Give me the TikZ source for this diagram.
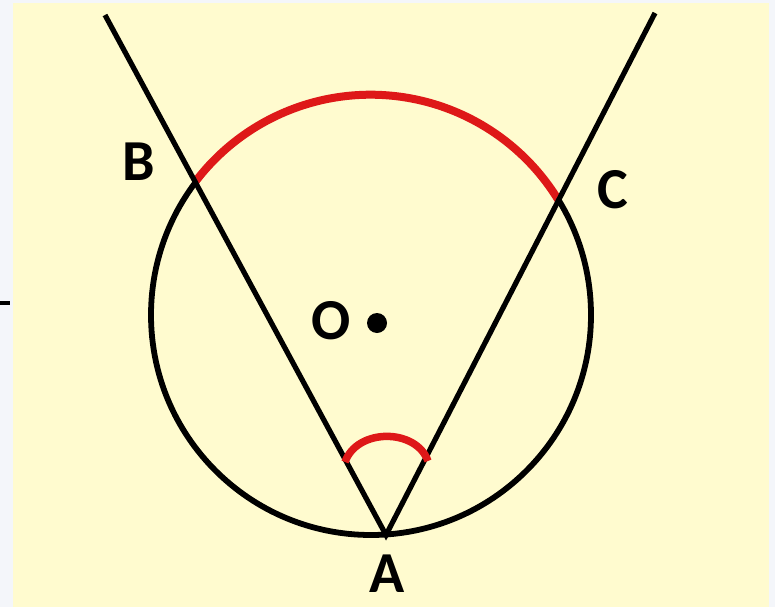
\documentclass[tikz,border=0pt]{standalone}
\usepackage{fontspec}
\setmainfont{Carlito}
\definecolor{bgyellow}{RGB}{255,251,207}
\definecolor{stripcol}{RGB}{244,246,250}
\definecolor{arcred}{RGB}{222,24,24}
\begin{document}
\begin{tikzpicture}[x=1pt,y=-1pt,
  blackline/.style={line width=5.2pt,black},
  circleline/.style={line width=5.8pt,black},
  redarc/.style={line width=8pt,arcred},
  lbl/.style={font=\fontsize{58}{58}\selectfont\bfseries,inner sep=0pt}]
\useasboundingbox (0,0) rectangle (775,607);
\fill[stripcol] (0,0) rectangle (775,607);
\fill[bgyellow] (13,3) rectangle (769,607);
\draw[line width=3.5pt,black] (0,303) -- (10,303);
% points
\coordinate (O) at (371,315);
\coordinate (A) at (386,535);
\coordinate (Ltop) at (105,15);
\coordinate (Rtop) at (655,13);
\coordinate (B) at (195.2,181.9);
\coordinate (C) at (558.9,199.6);
% circle
\draw[circleline] (O) circle[radius=220];
% big red arc B to C
\draw[redarc] (B) arc[start angle=-142.87, end angle=-31.56, radius=220];
% lines
\draw[blackline] (Ltop) -- (A) -- (Rtop);
% angle mark at A
\coordinate (m1) at (345,462);
\coordinate (m2) at (428,461);
\draw[redarc,line width=7.5pt] (m1) .. controls (357,428) and (416,428) .. (m2);
% centre dot
\fill[black] (377,323) circle[radius=10];
% labels
\node[lbl] (lB) at (139,162) {B};
\node[lbl] (lC) at (613,190) {C};
\node[lbl] (lO) at (331,321) {O};
\node[lbl] (lA) at (387,574) {A};
\end{tikzpicture}
\end{document}
